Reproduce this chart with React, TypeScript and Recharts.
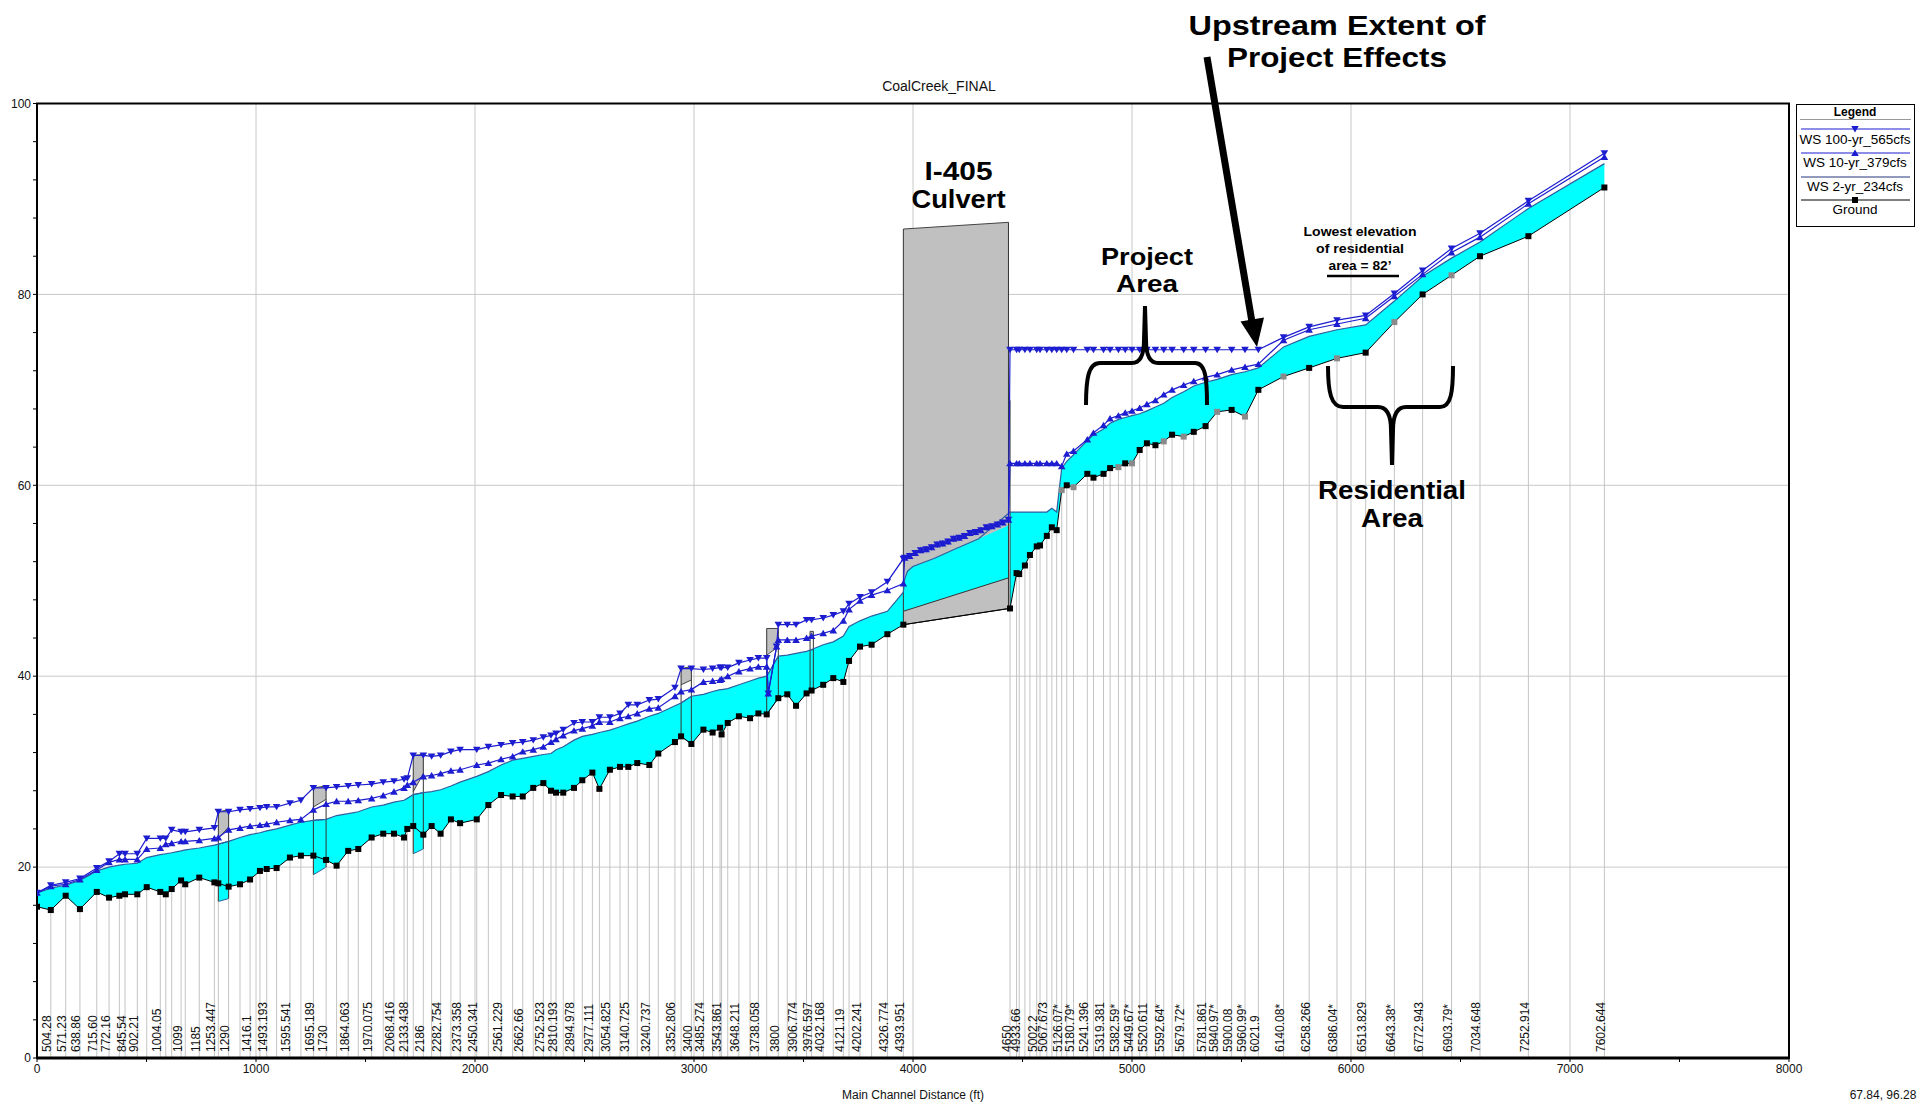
import React from "react";
import {
  ComposedChart,
  Line,
  Area,
  Scatter,
  XAxis,
  YAxis,
  CartesianGrid,
  ReferenceArea,
} from "recharts";

// ==================== PROFILE DATA ====================
// main channel distance (ft) of each cross section
const xsDist = [
  0, 63, 131, 196, 273, 329, 376, 402, 458, 501, 563, 588, 615, 658, 677, 741, 810, 828, 875, 927,
  973, 1018, 1049, 1094, 1155, 1205, 1262, 1320, 1368, 1421, 1467, 1528, 1581, 1630, 1676, 1691, 1718, 1764, 1802, 1843,
  1890, 1932, 2008, 2061, 2119, 2172, 2218, 2266, 2312, 2347, 2370, 2403, 2452, 2490, 2536, 2568, 2616, 2662, 2700, 2741,
  2796, 2837, 2913, 2941, 2988, 3043, 3085, 3119, 3126, 3154, 3205, 3256, 3294, 3332, 3385, 3426, 3466, 3514, 3537, 3590,
  3636, 3682, 3708, 3758, 3811, 3883, 3956, 4443, 4473, 4485, 4511, 4534, 4565, 4580, 4611, 4634, 4656, 4679, 4702, 4733,
  4796, 4824, 4870, 4900, 4938, 4969, 5000, 5035, 5068, 5107, 5145, 5183, 5236, 5282, 5336, 5389, 5455, 5516, 5577, 5692,
  5809, 5936, 6067, 6198, 6327, 6459, 6589, 6810, 7157,
];

// river station labels ("" = not labelled)
const xsRs = [
  "", "504.28", "571.23", "638.86", "715.60", "772.16", "", "845.54", "902.21", "", "1004.05", "", "", "1099", "", "1185", "1253.447", "", "1290", "",
  "1416.1", "", "1493.193", "", "1595.541", "", "1695.189", "1730", "", "1864.063", "", "1970.075", "", "2068.416", "", "2133.438", "", "2186", "", "2282.754",
  "", "2373.358", "2450.341", "", "2561.229", "", "2662.66", "", "2752.523", "", "2810.193", "", "2894.978", "", "2977.111", "", "3054.825", "", "3140.725", "",
  "3240.737", "", "3352.806", "", "3400", "3485.274", "", "3543.861", "", "", "3648.211", "", "3738.058", "", "3800", "", "3906.774", "", "3976.597", "4032.168",
  "", "4121.19", "", "4202.241", "", "4326.774", "4393.951", "4650", "", "4933.66", "", "", "5002.2", "", "5067.673", "", "", "5126.07*", "", "5180.79*",
  "5241.396", "", "5319.381", "", "5382.59*", "", "5449.67*", "", "5520.611", "", "5592.64*", "", "5679.72*", "", "5781.861", "5840.97*", "5900.08", "5960.99*", "6021.9", "6140.08*",
  "6258.266", "6386.04*", "6513.829", "6643.38*", "6772.943", "6903.79*", "7034.648", "7252.914", "7602.644",
];

const ground = [
  15.85, 15.5, 17.0, 15.6, 17.4, 16.8, 17.0, 17.15, 17.15, 17.9, 17.4, 17.15, 17.7, 18.6, 18.2, 18.9, 18.4, 18.3, 17.95, 18.2,
  18.7, 19.6, 19.8, 19.9, 21.0, 21.2, 21.2, 20.75, 20.15, 21.7, 21.9, 23.1, 23.5, 23.5, 23.1, 24.0, 24.3, 23.4, 24.3, 23.5,
  25.0, 24.6, 25.0, 26.5, 27.55, 27.4, 27.4, 28.3, 28.8, 28.0, 27.8, 27.8, 28.3, 29.1, 29.9, 28.2, 30.2, 30.5, 30.5, 30.9,
  30.7, 31.9, 33.1, 33.7, 32.9, 34.4, 34.1, 34.6, 33.9, 35.1, 35.8, 35.6, 36.1, 36.0, 37.7, 38.1, 36.9, 38.2, 38.5, 39.1,
  39.8, 39.4, 41.6, 43.1, 43.3, 44.4, 45.4, 47.1, 50.8, 50.7, 51.6, 52.7, 53.6, 53.7, 54.7, 55.6, 55.3, 59.5, 60.0, 59.8,
  61.2, 60.8, 61.2, 61.8, 61.9, 62.3, 62.3, 63.7, 64.4, 64.2, 64.6, 65.3, 65.1, 65.6, 66.2, 67.7, 67.9, 67.2, 70.0, 71.4,
  72.3, 73.3, 73.9, 77.1, 80.0, 82.0, 84.0, 86.1, 91.2,
];

const ws2 = [
  17.3, 17.8, 18.1, 18.6, 19.6, 20.0, 20.2, 20.3, 20.4, 21.0, 21.3, 21.4, 21.5, 21.7, 21.8, 22.0, 22.3, 22.4, 22.7, 23.1,
  23.4, 23.6, 23.8, 24.0, 24.4, 24.7, 24.9, 25.0, 25.4, 25.6, 25.8, 26.3, 26.5, 26.8, 27.0, 27.2, 27.6, 27.8, 27.9, 28.1,
  28.5, 28.9, 29.5, 30.0, 30.7, 31.2, 31.4, 31.6, 31.8, 31.9, 32.3, 32.6, 33.3, 33.7, 33.9, 34.1, 34.35, 34.7, 35.0, 35.3,
  35.8, 36.1, 36.9, 37.2, 37.9, 38.1, 38.4, 38.6, 38.6, 38.7, 39.1, 39.5, 39.8, 40.0, 42.1, 42.2, 42.4, 42.6, 42.8, 43.3,
  43.6, 44.2, 45.2, 45.8, 46.3, 46.8, 48.8, 57.2, 57.2, 57.2, 57.2, 57.2, 57.2, 57.2, 57.2, 57.6, 57.2, 61.8, 62.5, 63.2,
  64.7, 65.3, 65.9, 66.5, 66.9, 67.1, 67.3, 67.5, 67.8, 68.2, 68.6, 69.2, 69.8, 70.4, 70.8, 71.1, 71.6, 71.9, 72.3, 74.5,
  75.6, 76.3, 76.8, 79.3, 81.9, 83.8, 85.5, 89.0, 93.7,
];

const ws10 = [
  17.3, 18.0, 18.2, 18.7, 19.7, 20.5, 20.8, 20.8, 20.8, 21.9, 22.0, 22.4, 22.5, 22.7, 22.7, 22.8, 23.0, 23.1, 23.9, 24.1,
  24.3, 24.4, 24.5, 24.7, 24.9, 25.0, 26.0, 26.6, 26.9, 26.9, 27.0, 27.2, 27.5, 27.9, 28.3, 28.6, 28.9, 29.5, 29.6, 29.8,
  30.1, 30.2, 30.7, 30.9, 31.3, 31.6, 32.1, 32.3, 32.6, 33.1, 33.4, 33.8, 34.3, 34.5, 34.8, 35.2, 35.2, 35.6, 35.8, 36.1,
  36.6, 36.7, 37.9, 38.4, 38.6, 39.4, 39.5, 39.6, 39.7, 40.0, 40.5, 40.8, 41.0, 41.0, 43.8, 43.8, 43.8, 44.0, 44.2, 44.5,
  44.8, 45.8, 47.0, 47.9, 48.5, 49.0, 49.7, 62.3, 62.3, 62.3, 62.3, 62.3, 62.3, 62.3, 62.3, 62.3, 62.3, 62.0, 63.3, 63.6,
  64.8, 65.5, 66.3, 67.0, 67.3, 67.6, 67.8, 68.1, 68.5, 68.9, 69.5, 70.0, 70.5, 70.9, 71.3, 71.6, 72.1, 72.4, 72.7, 75.2,
  76.3, 76.9, 77.5, 79.8, 82.1, 84.4, 86.0, 89.5, 94.4,
];

const ws100 = [
  17.3, 18.1, 18.4, 18.8, 19.9, 20.6, 21.4, 21.4, 21.4, 23.0, 23.0, 23.0, 23.9, 23.7, 23.7, 23.9, 24.1, 25.8, 25.8, 26.0,
  26.1, 26.2, 26.3, 26.3, 26.7, 27.0, 28.3, 28.3, 28.4, 28.5, 28.6, 28.7, 28.9, 29.0, 29.2, 29.3, 31.7, 31.7, 31.6, 31.7,
  32.1, 32.3, 32.3, 32.6, 32.8, 33.0, 33.1, 33.3, 33.6, 33.8, 34.0, 34.4, 35.1, 35.2, 35.2, 35.7, 35.7, 36.1, 37.0, 37.0,
  37.5, 37.6, 38.8, 40.8, 40.8, 40.7, 40.8, 40.9, 40.9, 40.9, 41.4, 41.7, 41.9, 41.9, 45.4, 45.4, 45.4, 45.9, 45.9, 46.1,
  46.4, 46.8, 47.6, 48.3, 48.8, 49.9, 52.3, 74.2, 74.2, 74.2, 74.2, 74.2, 74.2, 74.2, 74.2, 74.2, 74.2, 74.2, 74.2, 74.2,
  74.2, 74.2, 74.2, 74.2, 74.2, 74.2, 74.2, 74.2, 74.2, 74.2, 74.2, 74.2, 74.2, 74.2, 74.2, 74.2, 74.2, 74.2, 74.2, 75.5,
  76.6, 77.3, 77.8, 80.1, 82.5, 84.8, 86.4, 89.8, 94.8,
];

// ==================== STRUCTURES ====================
// I-405 culvert
const culvertDist = [3956, 4436];
const culvertTop = [86.85, 87.55];
const culvertFloor = [45.4, 47.1];
const culvertWaterDist = [3956, 3962, 3975, 3999, 4093, 4200, 4300, 4435];
const culvertInvert = [46.8, 46.85, 46.9, 47.1, 47.8, 48.6, 49.3, 50.3];
const culvertWs2 = [48.8, 50.2, 51.0, 51.5, 52.3, 53.4, 54.4, 55.8];
const culvertWsDist = [3962, 3985, 4010, 4035, 4060, 4085, 4110, 4135, 4160, 4185, 4210, 4235, 4260, 4285, 4310, 4335, 4360, 4385, 4410, 4436];
const culvertWs = [52.4, 52.6, 52.9, 53.2, 53.3, 53.5, 53.8, 53.9, 54.1, 54.4, 54.5, 54.7, 55.0, 55.1, 55.3, 55.6, 55.7, 55.9, 56.1, 56.4];
const weirDist = 4443;
const weirSpan = [47.1, 68.9];

// small bridges (downstream face / upstream face)
const bridgeDn = [828, 1262, 1718, 2941, 3332, 3530];
const bridgeUp = [875, 1320, 1764, 2988, 3385, 3545];
const bridgeTopDn = [25.8, 28.3, 31.7, 40.8, 45.0, 44.7];
const bridgeTopUp = [26.0, 28.5, 31.8, 41.0, 45.0, 44.7];
const bridgeLowDn = [23.0, 26.3, 27.9, 39.1, 42.2, 44.0];
const bridgeLowUp = [24.2, 27.1, 29.8, 39.6, 43.1, 44.0];
const bridgeInvDn = [16.4, 19.2, 21.4, 33.7, 36.0, 38.4];
const bridgeInvUp = [16.7, 20.0, 21.9, 32.9, 37.7, 38.6];
const bridgeWs2Dn = [22.4, 24.9, 27.6, 37.2, 40.0, 42.7];
const bridgeWs2Up = [22.7, 25.0, 27.8, 37.9, 42.1, 42.8];

// water surface dip inside the 3800 bridge
const dipDist = [3339, 3377];
const dipWs = [38.2, 43.1];

const xTicks = [0, 500, 1000, 1500, 2000, 2500, 3000, 3500, 4000, 4500, 5000, 5500, 6000, 6500, 7000, 7500, 8000];
const yTicks = [0, 4, 8, 12, 16, 20, 24, 28, 32, 36, 40, 44, 48, 52, 56, 60, 64, 68, 72, 76, 80, 84, 88, 92, 96, 100];
const gridX = [1000, 2000, 3000, 4000, 5000, 6000, 7000];
const gridY = [20, 40, 60, 80];

// ==================== DERIVED ROWS ====================
const profile = xsDist.map((d, i) => ({
  d,
  rs: xsRs[i],
  g: ground[i],
  w2: ws2[i],
  w10: ws10[i],
  w100: ws100[i],
  gray: xsRs[i].endsWith("*"),
}));

const byDist = (a: { d: number }, b: { d: number }) => a.d - b.d;

const bandDn = profile.filter((r) => r.d <= culvertDist[0]);
const bandUp = profile.filter((r) => r.d >= weirDist);
const culvertWater = culvertWaterDist.map((d, i) => ({ d, lo: culvertInvert[i], hi: culvertWs2[i] }));
const culvertBox = culvertDist.map((d, i) => ({ d, lo: culvertFloor[i], hi: culvertTop[i] }));
const culvertBottom = [
  { d: culvertDist[0], lo: culvertFloor[0], hi: culvertInvert[0] },
  { d: culvertDist[1], lo: culvertFloor[1], hi: culvertInvert[culvertInvert.length - 1] },
];

const ws2Rows = [
  ...profile.map((r) => ({ d: r.d, v: r.w2 })),
  ...culvertWater.slice(1, -1).map((r) => ({ d: r.d, v: r.hi })),
].sort(byDist);
const ws10Rows = [
  ...profile.map((r) => ({ d: r.d, v: r.w10 })),
  ...culvertWsDist.map((d, i) => ({ d, v: culvertWs[i] })),
  ...dipDist.map((d, i) => ({ d, v: dipWs[i] })),
].sort(byDist);
const ws100Rows = [
  ...profile.map((r) => ({ d: r.d, v: r.w100 })),
  ...culvertWsDist.map((d, i) => ({ d, v: culvertWs[i] })),
  ...dipDist.map((d, i) => ({ d, v: dipWs[i] })),
].sort(byDist);
const groundRows = profile.map((r) => ({ d: r.d, v: r.g, gray: r.gray }));

const xsLines = profile.flatMap((r) => [
  { d: r.d, v: 0 },
  { d: r.d, v: r.g },
  { d: r.d, v: null },
]);

const structLines = [
  ...bridgeDn.flatMap((d, i) => [
    { d, v: bridgeInvDn[i] },
    { d, v: bridgeTopDn[i] },
    { d, v: null },
    { d: bridgeUp[i], v: bridgeInvUp[i] },
    { d: bridgeUp[i], v: bridgeTopUp[i] },
    { d: bridgeUp[i], v: null },
  ]),
  ...culvertDist.flatMap((d, i) => [
    { d, v: culvertFloor[i] },
    { d, v: culvertTop[i] },
    { d, v: null },
  ]),
  { d: weirDist, v: weirSpan[0] },
  { d: weirDist, v: weirSpan[1] },
];

const labelRows = profile.filter((r) => r.rs !== "").map((r) => ({ d: r.d, y: 0, rs: r.rs }));

// ==================== STYLES ====================
const FONT = "'Liberation Sans', Arial, sans-serif";
const BLUE = "#1c1cd0";
const CYAN = "#00ffff";
const GREY = "#c0c0c0";

const range = (r: any) => [r.lo, r.hi];
const band = (r: any) => [r.g, r.w2];

const groundDot = (p: any) => {
  if (p.cx == null || p.cy == null) return <g key={p.index} />;
  return (
    <rect
      key={p.index}
      x={p.cx - 3}
      y={p.cy - 3}
      width={6}
      height={6}
      fill={p.payload.gray ? "#8a8a8a" : "#000"}
    />
  );
};

const downTri = (p: any) => {
  if (p.cx == null || p.cy == null) return <g key={p.index} />;
  const { cx, cy } = p;
  return <polygon key={p.index} points={`${cx - 3.8},${cy - 3} ${cx + 3.8},${cy - 3} ${cx},${cy + 3.4}`} fill={BLUE} />;
};

const upTri = (p: any) => {
  if (p.cx == null || p.cy == null) return <g key={p.index} />;
  const { cx, cy } = p;
  return <polygon key={p.index} points={`${cx - 3.8},${cy + 3} ${cx + 3.8},${cy + 3} ${cx},${cy - 3.4}`} fill={BLUE} />;
};

const RsLabel = (p: any) => {
  const y = p.cy - 6;
  return (
    <text
      x={p.cx + 0.5}
      y={y}
      transform={`rotate(-90 ${p.cx + 0.5} ${y})`}
      fontSize={12}
      fontFamily={FONT}
      fill="#111"
    >
      {p.payload.rs}
    </text>
  );
};

// ==================== LEGEND ====================
function ProfileLegend() {
  const cx = 58;
  return (
    <div style={{ position: "absolute", left: 1796, top: 104, width: 117, height: 121, border: "1px solid #000", background: "#fff" }}>
      <svg width={117} height={121} style={{ display: "block" }}>
        <text x={cx} y={11} textAnchor="middle" fontFamily={FONT} fontSize={12} fontWeight="bold">Legend</text>
        <line x1={3} x2={114} y1={14.5} y2={14.5} stroke="#999" />
        <line x1={4} x2={113} y1={24} y2={24} stroke={BLUE} />
        <polygon points={`${cx - 3.8},${21} ${cx + 3.8},${21} ${cx},${27.4}`} fill={BLUE} />
        <text x={cx} y={38.5} textAnchor="middle" fontFamily={FONT} fontSize={13.5}>WS 100-yr_565cfs</text>
        <line x1={4} x2={113} y1={48} y2={48} stroke={BLUE} />
        <polygon points={`${cx - 3.8},${51} ${cx + 3.8},${51} ${cx},${44.6}`} fill={BLUE} />
        <text x={cx} y={62} textAnchor="middle" fontFamily={FONT} fontSize={13.5}>WS 10-yr_379cfs</text>
        <line x1={4} x2={113} y1={72} y2={72} stroke="#24347a" />
        <text x={cx} y={85.5} textAnchor="middle" fontFamily={FONT} fontSize={13.5}>WS 2-yr_234cfs</text>
        <line x1={4} x2={113} y1={95} y2={95} stroke="#000" />
        <rect x={cx - 3} y={92} width={6} height={6} fill="#000" />
        <text x={cx} y={109} textAnchor="middle" fontFamily={FONT} fontSize={13.5}>Ground</text>
      </svg>
    </div>
  );
}

// ==================== ANNOTATIONS ====================
function Note({ x, y, size, width, children }: { x: number; y: number; size: number; width: number; children: string }) {
  return (
    <text
      x={x - width / 2}
      y={y}
      fontSize={size}
      fontFamily={FONT}
      fontWeight={700}
      fill="#000"
      textLength={width}
      lengthAdjust="spacingAndGlyphs"
    >
      {children}
    </text>
  );
}

function Annotations() {
  return (
    <svg width={1931} height={1106} style={{ position: "absolute", left: 0, top: 0, pointerEvents: "none" }}>
      <text x={939} y={91} textAnchor="middle" fontFamily={FONT} fontSize={14} fill="#111">CoalCreek_FINAL</text>
      <text x={913} y={1099} textAnchor="middle" fontFamily={FONT} fontSize={12} fill="#111">Main Channel Distance (ft)</text>
      <text x={1883} y={1099} textAnchor="middle" fontFamily={FONT} fontSize={12} fill="#111">67.84, 96.28</text>

      <Note x={1337} y={35} size={28.5} width={297}>Upstream Extent of</Note>
      <Note x={1337} y={67} size={28.5} width={220}>Project Effects</Note>
      <line x1={1207} y1={57} x2={1252} y2={322} stroke="#000" strokeWidth={7} />
      <polygon points="1240.5,321.5 1264,317.5 1257,347" fill="#000" />

      <Note x={958.5} y={180} size={25} width={68}>I-405</Note>
      <Note x={958.5} y={208} size={25} width={94}>Culvert</Note>

      <Note x={1147} y={265} size={24} width={92}>Project</Note>
      <Note x={1147} y={292} size={24} width={62}>Area</Note>
      <path
        d="M1086,405 C1086,380 1088,363 1100,363 L1132,363 C1142,363 1144,352 1144,340 L1145,306 L1146,340 C1146,352 1148,363 1158,363 L1195,363 C1206,363 1207,380 1207,405"
        fill="none"
        stroke="#000"
        strokeWidth={4}
      />

      <Note x={1360} y={236} size={13.5} width={113}>Lowest elevation</Note>
      <Note x={1360} y={253} size={13.5} width={88}>of residential</Note>
      <Note x={1360} y={270} size={13.5} width={63}>area = 82’</Note>
      <line x1={1327} y1={276} x2={1399} y2={276} stroke="#000" strokeWidth={2.5} />

      <Note x={1392} y={499} size={25} width={148}>Residential</Note>
      <Note x={1392} y={527} size={25} width={62}>Area</Note>
      <path
        d="M1328,366 C1328,392 1331,407 1343,407 L1378,407 C1388,407 1391,418 1391,430 L1392,465 L1393,430 C1393,418 1396,407 1406,407 L1440,407 C1451,407 1453,392 1453,366"
        fill="none"
        stroke="#000"
        strokeWidth={4}
      />
    </svg>
  );
}

// ==================== CHART ====================
export default function App() {
  return (
    <div style={{ position: "absolute", left: 0, top: 0, width: 1931, height: 1106, background: "#fff", overflow: "hidden" }}>
      <ComposedChart width={1931} height={1106} margin={{ top: 103.5, right: 142, bottom: 0, left: 0 }}>
        <CartesianGrid stroke="#c8c8c8" horizontalValues={gridY} verticalValues={gridX} />
        <XAxis
          type="number"
          dataKey="d"
          domain={[0, 8000]}
          ticks={xTicks}
          allowDataOverflow
          height={48}
          tickSize={4}
          tickFormatter={(v: number) => (v % 1000 === 0 ? String(v) : "")}
          tick={{ fontSize: 12, fill: "#111", fontFamily: FONT }}
          axisLine={{ stroke: "#000", strokeWidth: 3 }}
          tickLine={{ stroke: "#000" }}
        />
        <YAxis
          type="number"
          domain={[0, 100]}
          ticks={yTicks}
          allowDataOverflow
          width={37}
          tickSize={4}
          tickMargin={2}
          tickFormatter={(v: number) => (v % 20 === 0 ? String(v) : "")}
          tick={{ fontSize: 12, fill: "#111", fontFamily: FONT }}
          axisLine={{ stroke: "#000", strokeWidth: 2 }}
          tickLine={{ stroke: "#000" }}
        />

        {/* culvert body */}
        <Area data={culvertBox} dataKey={range} type="linear" fill={GREY} fillOpacity={1} stroke="#444" strokeWidth={1} isAnimationActive={false} />

        {/* 2-yr water band */}
        <Area data={bandDn} dataKey={band} type="linear" fill={CYAN} fillOpacity={1} stroke="none" isAnimationActive={false} />
        <Area data={bandUp} dataKey={band} type="linear" fill={CYAN} fillOpacity={1} stroke="none" isAnimationActive={false} />
        <Area data={culvertWater} dataKey={range} type="linear" fill={CYAN} fillOpacity={1} stroke="none" isAnimationActive={false} />
        <Area data={culvertBottom} dataKey={range} type="linear" fill={GREY} fillOpacity={1} stroke="#333" strokeWidth={1} isAnimationActive={false} />

        {/* bridges */}
        {bridgeDn.map((d, i) => (
          <Area
            key={`bw${i}`}
            data={[
              { d, lo: bridgeInvDn[i], hi: bridgeWs2Dn[i] },
              { d: bridgeUp[i], lo: bridgeInvUp[i], hi: bridgeWs2Up[i] },
            ]}
            dataKey={range}
            type="linear"
            fill={CYAN}
            fillOpacity={1}
            stroke="#2f5f9f"
            strokeWidth={1}
            isAnimationActive={false}
          />
        ))}
        {bridgeDn.map((d, i) => (
          <Area
            key={`bd${i}`}
            data={[
              { d, lo: bridgeLowDn[i], hi: bridgeTopDn[i] },
              { d: bridgeUp[i], lo: bridgeLowUp[i], hi: bridgeTopUp[i] },
            ]}
            dataKey={range}
            type="linear"
            fill={GREY}
            fillOpacity={1}
            stroke="#444"
            strokeWidth={1}
            isAnimationActive={false}
          />
        ))}

        {/* cross-section stems */}
        <Line data={xsLines} dataKey="v" type="linear" stroke="#c4c4c4" strokeWidth={1} dot={false} connectNulls={false} isAnimationActive={false} />
        <Line data={structLines} dataKey="v" type="linear" stroke="#333" strokeWidth={1} dot={false} connectNulls={false} isAnimationActive={false} />

        <Line data={ws2Rows} dataKey="v" type="linear" stroke="#2f5f9f" strokeWidth={1.2} dot={false} isAnimationActive={false} />
        <Line data={groundRows} dataKey="v" type="linear" stroke="#000" strokeWidth={1} dot={groundDot} isAnimationActive={false} />
        <Line data={ws10Rows} dataKey="v" type="linear" stroke={BLUE} strokeWidth={1.2} dot={upTri} isAnimationActive={false} />
        <Line data={ws100Rows} dataKey="v" type="linear" stroke={BLUE} strokeWidth={1.2} dot={downTri} isAnimationActive={false} />

        <Scatter data={labelRows} dataKey="y" shape={RsLabel} isAnimationActive={false} />

        <ReferenceArea x1={0} x2={8000} y1={0} y2={100} fill="none" stroke="#000" strokeWidth={2} ifOverflow="visible" />
      </ComposedChart>
      <ProfileLegend />
      <Annotations />
    </div>
  );
}
